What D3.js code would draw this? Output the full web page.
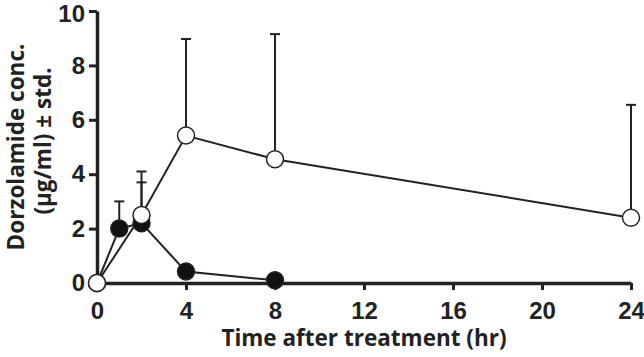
<!DOCTYPE html>
<html>
<head>
<meta charset="utf-8">
<script src="https://cdn.jsdelivr.net/npm/d3@7"></script>
<style>
  body { margin: 0; background: #fff; }
</style>
</head>
<body>
<svg id="chart" width="644" height="357"></svg>
<script>
// time points (hr) and mean +- std (µg/ml)
const openTime = [0, 2, 4, 8, 24]
const openMean = [0, 2.5, 5.42, 4.55, 2.4]
const openStd = [0, 1.6, 3.55, 4.6, 4.15]

const filledTime = [0, 1, 2, 4, 8]
const filledMean = [0, 2.0, 2.2, 0.42, 0.1]
const filledStd = [0, 1.0, 1.5, 0, 0]

const xTicks = [0, 4, 8, 12, 16, 20, 24]
const yTicks = [0, 2, 4, 6, 8, 10]

const width = 644
const height = 357
const margin = { top: 11, right: 13, bottom: 74, left: 97 }
const ink = '#222'

const svg = d3.select('#chart')

const x = d3.scaleLinear().domain([0, 24]).range([margin.left, width - margin.right])
const y = d3.scaleLinear().domain([0, 10]).range([height - margin.bottom, margin.top])

const open = openTime.map((t, i) => ({ t, m: openMean[i], s: openStd[i] }))
const filled = filledTime.map((t, i) => ({ t, m: filledMean[i], s: filledStd[i] }))

// axes
const xAxis = svg
  .append('g')
  .attr('transform', `translate(0,${y(0)})`)
  .call(d3.axisBottom(x).tickValues(xTicks).tickSize(7).tickSizeOuter(0).tickPadding(12))
const yAxis = svg
  .append('g')
  .attr('transform', `translate(${x(0)},0)`)
  .call(d3.axisLeft(y).tickValues(yTicks).tickSize(8).tickSizeOuter(0).tickPadding(4))

;[xAxis, yAxis].forEach((g) => {
  g.select('.domain').attr('stroke', ink).attr('stroke-width', 3.5)
  g.selectAll('.tick line').attr('stroke', ink).attr('stroke-width', 3)
  g.selectAll('.tick text')
    .attr('fill', ink)
    .style('font-family', '"Liberation Sans", Arial, sans-serif')
    .style('font-weight', 'bold')
    .style('font-size', '24px')
})
// keep the top label inside the frame
yAxis.selectAll('.tick text').filter((d) => d === 10).attr('dy', '0.45em')

// axis titles
svg
  .append('text')
  .attr('x', x(12))
  .attr('y', 346)
  .attr('text-anchor', 'middle')
  .attr('fill', ink)
  .style('font-family', '"Open Sans", sans-serif')
  .style('font-weight', 'bold')
  .style('font-size', '22.5px')
  .text('Time after treatment (hr)')

const yTitle = svg
  .append('text')
  .attr('transform', `translate(0,${y(5)}) rotate(-90)`)
  .attr('text-anchor', 'middle')
  .attr('fill', ink)
  .style('font-family', '"Open Sans", sans-serif')
  .style('font-weight', 'bold')
  .style('font-size', '22.5px')
yTitle.append('tspan').attr('x', 0).attr('y', 24).text('Dorzolamide conc.')
yTitle.append('tspan').attr('x', 6).attr('y', 51).text('(\u00b5g/ml) \u00b1 std.')

const line = d3
  .line()
  .x((d) => x(d.t))
  .y((d) => y(d.m))

// error bars (upper only)
const drawErr = (data) => {
  const g = svg.append('g').attr('stroke', ink).attr('stroke-width', 2)
  const bars = data.filter((d) => d.s > 0)
  g.selectAll('.v')
    .data(bars)
    .join('line')
    .attr('x1', (d) => x(d.t))
    .attr('x2', (d) => x(d.t))
    .attr('y1', (d) => y(d.m))
    .attr('y2', (d) => y(d.m + d.s))
  g.selectAll('.c')
    .data(bars)
    .join('line')
    .attr('x1', (d) => x(d.t) - 5)
    .attr('x2', (d) => x(d.t) + 5)
    .attr('y1', (d) => y(d.m + d.s))
    .attr('y2', (d) => y(d.m + d.s))
}
drawErr(open)
drawErr(filled)

svg.append('path').datum(open).attr('d', line).attr('fill', 'none').attr('stroke', ink).attr('stroke-width', 2)
svg.append('path').datum(filled).attr('d', line).attr('fill', 'none').attr('stroke', ink).attr('stroke-width', 2)

svg
  .append('g')
  .selectAll('circle')
  .data(filled)
  .join('circle')
  .attr('cx', (d) => x(d.t))
  .attr('cy', (d) => y(d.m))
  .attr('r', 8.5)
  .attr('fill', '#111')
  .attr('stroke', ink)
  .attr('stroke-width', 1.5)

svg
  .append('g')
  .selectAll('circle')
  .data(open)
  .join('circle')
  .attr('cx', (d) => x(d.t))
  .attr('cy', (d) => y(d.m))
  .attr('r', 8.5)
  .attr('fill', '#fff')
  .attr('stroke', ink)
  .attr('stroke-width', 1.5)
</script>
</body>
</html>
